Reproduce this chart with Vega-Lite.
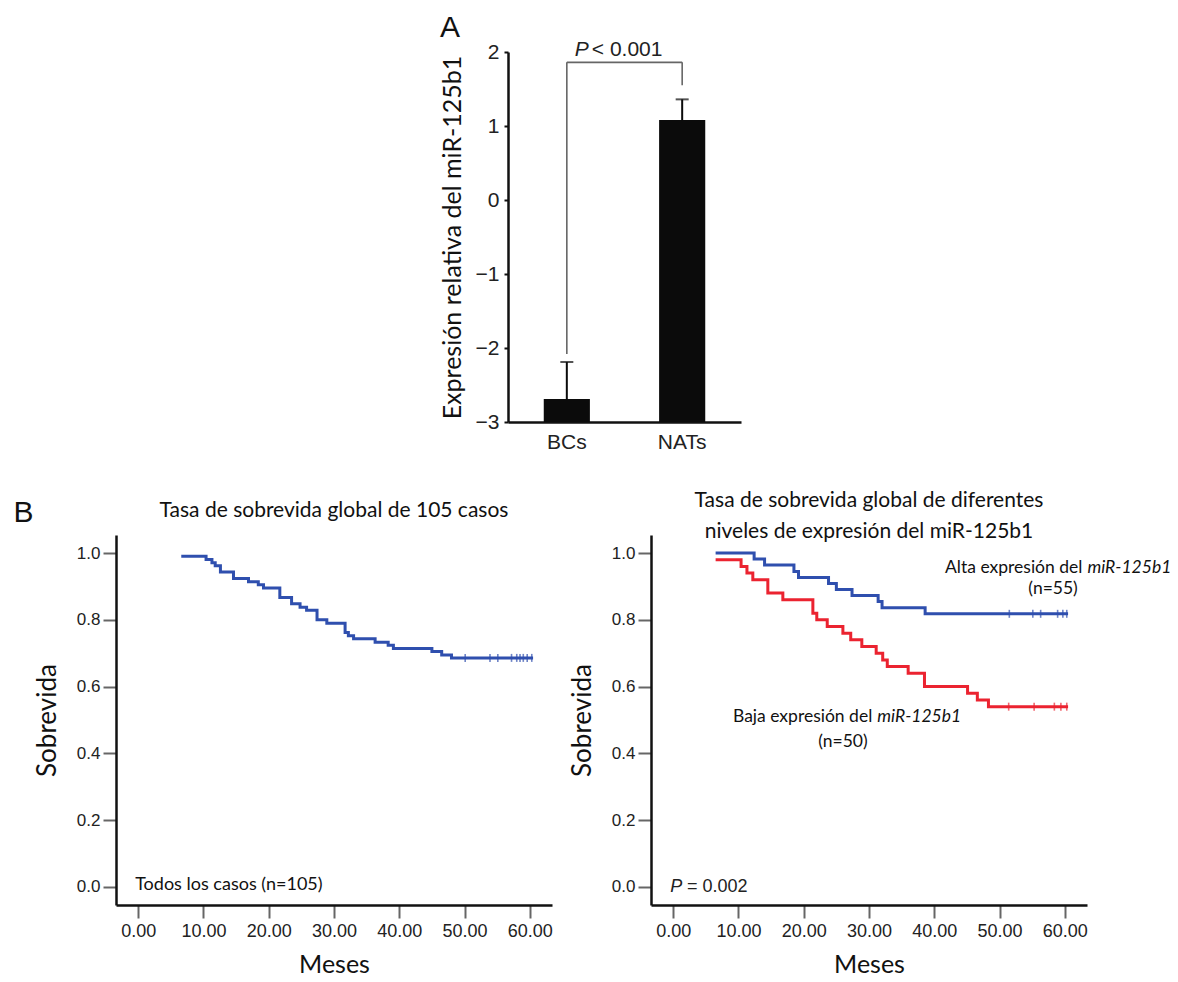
{
  "$schema": "https://vega.github.io/schema/vega-lite/v6.json",
  "background": "white",
  "padding": {"left": 13, "top": 12, "right": 5, "bottom": 5},
  "config": {
    "view": {"stroke": null},
    "font": "Lato",
    "axis": {
      "grid": false,
      "labelFont": "Liberation Sans",
      "labelColor": "#222",
      "titleFont": "Lato",
      "titleFontWeight": "normal",
      "titleColor": "#111",
      "domainColor": "#111",
      "domainWidth": 2.5,
      "tickColor": "#666",
      "tickWidth": 2
    },
    "title": {"font": "Lato", "fontWeight": "normal", "color": "#111"}
  },
  "datasets": {
    "bars": [
      {"group": "BCs", "value": -2.69, "upper": -2.19, "bracketTop": 1.86, "bracketLow": -2.08},
      {"group": "NATs", "value": 1.08, "upper": 1.36, "bracketTop": 1.86, "bracketLow": 1.55}
    ],
    "bracket": [{"from": "BCs", "to": "NATs", "y": 1.86}],
    "pval": [{"group": "BCs", "y": 1.95, "p": "P", "rest": "< 0.001"}],
    "all": [
      {"mes": 6.6, "s": 0.990}, {"mes": 10.4, "s": 0.981}, {"mes": 11.3, "s": 0.971},
      {"mes": 11.8, "s": 0.962}, {"mes": 12.6, "s": 0.943}, {"mes": 14.6, "s": 0.924},
      {"mes": 16.9, "s": 0.914}, {"mes": 18.4, "s": 0.905}, {"mes": 19.2, "s": 0.895},
      {"mes": 21.7, "s": 0.867}, {"mes": 23.5, "s": 0.848}, {"mes": 24.8, "s": 0.838},
      {"mes": 25.8, "s": 0.829}, {"mes": 27.4, "s": 0.800}, {"mes": 28.9, "s": 0.790},
      {"mes": 31.7, "s": 0.762}, {"mes": 32.2, "s": 0.752}, {"mes": 33.0, "s": 0.743},
      {"mes": 36.3, "s": 0.733}, {"mes": 38.3, "s": 0.724}, {"mes": 39.1, "s": 0.714},
      {"mes": 45.0, "s": 0.705}, {"mes": 46.5, "s": 0.695}, {"mes": 48.0, "s": 0.686},
      {"mes": 60.5, "s": 0.686}
    ],
    "allCensor": [
      {"mes": 50.1, "s": 0.686}, {"mes": 53.9, "s": 0.686}, {"mes": 55.1, "s": 0.686},
      {"mes": 57.2, "s": 0.686}, {"mes": 58.0, "s": 0.686}, {"mes": 58.5, "s": 0.686},
      {"mes": 59.0, "s": 0.686}, {"mes": 59.6, "s": 0.686}, {"mes": 60.3, "s": 0.686}
    ],
    "groups": [
      {"grupo": "Alta", "mes": 6.5, "s": 1.0}, {"grupo": "Alta", "mes": 12.4, "s": 0.982},
      {"grupo": "Alta", "mes": 14.0, "s": 0.964}, {"grupo": "Alta", "mes": 18.5, "s": 0.945},
      {"grupo": "Alta", "mes": 19.2, "s": 0.927}, {"grupo": "Alta", "mes": 23.8, "s": 0.909},
      {"grupo": "Alta", "mes": 25.0, "s": 0.891}, {"grupo": "Alta", "mes": 27.4, "s": 0.873},
      {"grupo": "Alta", "mes": 31.4, "s": 0.855}, {"grupo": "Alta", "mes": 32.0, "s": 0.836},
      {"grupo": "Alta", "mes": 38.6, "s": 0.818}, {"grupo": "Alta", "mes": 60.5, "s": 0.818},
      {"grupo": "Baja", "mes": 6.5, "s": 0.98}, {"grupo": "Baja", "mes": 10.4, "s": 0.96},
      {"grupo": "Baja", "mes": 11.3, "s": 0.94}, {"grupo": "Baja", "mes": 12.2, "s": 0.92},
      {"grupo": "Baja", "mes": 14.5, "s": 0.88}, {"grupo": "Baja", "mes": 16.8, "s": 0.86},
      {"grupo": "Baja", "mes": 21.4, "s": 0.82}, {"grupo": "Baja", "mes": 22.0, "s": 0.80},
      {"grupo": "Baja", "mes": 23.6, "s": 0.78}, {"grupo": "Baja", "mes": 26.0, "s": 0.76},
      {"grupo": "Baja", "mes": 27.2, "s": 0.74}, {"grupo": "Baja", "mes": 28.9, "s": 0.72},
      {"grupo": "Baja", "mes": 31.1, "s": 0.70}, {"grupo": "Baja", "mes": 32.1, "s": 0.68},
      {"grupo": "Baja", "mes": 32.8, "s": 0.66}, {"grupo": "Baja", "mes": 36.0, "s": 0.64},
      {"grupo": "Baja", "mes": 38.5, "s": 0.60}, {"grupo": "Baja", "mes": 45.1, "s": 0.58},
      {"grupo": "Baja", "mes": 46.6, "s": 0.56}, {"grupo": "Baja", "mes": 48.3, "s": 0.54},
      {"grupo": "Baja", "mes": 60.5, "s": 0.54}
    ],
    "groupCensor": [
      {"grupo": "Alta", "mes": 51.5, "s": 0.818}, {"grupo": "Alta", "mes": 55.1, "s": 0.818},
      {"grupo": "Alta", "mes": 56.3, "s": 0.818}, {"grupo": "Alta", "mes": 58.9, "s": 0.818},
      {"grupo": "Alta", "mes": 59.7, "s": 0.818}, {"grupo": "Alta", "mes": 60.3, "s": 0.818},
      {"grupo": "Baja", "mes": 51.4, "s": 0.54}, {"grupo": "Baja", "mes": 55.3, "s": 0.54},
      {"grupo": "Baja", "mes": 58.4, "s": 0.54}, {"grupo": "Baja", "mes": 59.4, "s": 0.54},
      {"grupo": "Baja", "mes": 60.3, "s": 0.54}
    ],
    "notesLeft": [{"mes": -0.46, "s": -0.009, "t": "Todos los casos (n=105)"}],
    "labelB": [{"mes": -19.1, "s": 1.093, "t": "B"}],
    "notesRightPlain": [
      {"mes": 62.7, "s": 0.940, "t": "Alta expresión del", "it": "miR-125b1"},
      {"mes": 30.5, "s": 0.494, "t": "Baja expresión del", "it": "miR-125b1"}
    ],
    "notesRightN": [
      {"mes": 58.2, "s": 0.877, "t": "(n=55)"},
      {"mes": 26.0, "s": 0.419, "t": "(n=50)"}
    ],
    "pRight": [{"mes": -0.46, "mes2": 2.1, "s": -0.015, "p": "P", "rest": "= 0.002"}]
  },
  "spacing": 38,
  "vconcat": [
    {
      "spacing": 0,
      "hconcat": [
        {"width": 324, "height": 10, "data": {"values": []}, "mark": "text", "encoding": {}},
        {
          "width": 233,
          "height": 370,
          "title": {"text": "A", "anchor": "start", "frame": "bounds", "font": "Liberation Sans", "fontSize": 30, "offset": -4},
          "layer": [
            {
              "data": {"name": "bars"},
              "mark": {"type": "bar", "color": "#0b0b0b"},
              "encoding": {
                "x": {
                  "field": "group", "type": "nominal",
                  "scale": {"paddingInner": 0.6, "paddingOuter": 0.31},
                  "axis": {"title": null, "labelAngle": 0, "ticks": false, "labelPadding": 9, "labelFontSize": 21, "labelColor": "#222"}
                },
                "y": {
                  "field": "value", "type": "quantitative",
                  "scale": {"domain": [-3, 2], "nice": false, "zero": false},
                  "axis": {
                    "values": [-3, -2, -1, 0, 1, 2],
                    "format": "d",
                    "title": "Expresión relativa del miR-125b1",
                    "titleFontSize": 25, "titlePadding": 10,
                    "labelFontSize": 21, "labelPadding": 5,
                    "tickSize": 4, "tickColor": "#111"
                  }
                },
                "y2": {"datum": -3}
              }
            },
            {
              "data": {"name": "bars"},
              "mark": {"type": "rule", "color": "#0b0b0b", "strokeWidth": 2},
              "encoding": {
                "x": {"field": "group", "type": "nominal"},
                "y": {"field": "value", "type": "quantitative"},
                "y2": {"field": "upper"}
              }
            },
            {
              "data": {"name": "bars"},
              "mark": {"type": "tick", "color": "#0b0b0b", "thickness": 2, "size": 13, "orient": "horizontal"},
              "encoding": {
                "x": {"field": "group", "type": "nominal"},
                "y": {"field": "upper", "type": "quantitative"}
              }
            },
            {
              "data": {"name": "bars"},
              "mark": {"type": "rule", "color": "#666", "strokeWidth": 1.6},
              "encoding": {
                "x": {"field": "group", "type": "nominal"},
                "y": {"field": "bracketTop", "type": "quantitative"},
                "y2": {"field": "bracketLow"}
              }
            },
            {
              "data": {"name": "bracket"},
              "mark": {"type": "rule", "color": "#666", "strokeWidth": 1.6},
              "encoding": {
                "x": {"field": "from", "type": "nominal"},
                "x2": {"field": "to"},
                "y": {"field": "y", "type": "quantitative"}
              }
            },
            {
              "data": {"name": "pval"},
              "mark": {"type": "text", "font": "Liberation Sans", "fontSize": 21, "fontStyle": "italic", "align": "left", "baseline": "alphabetic", "dx": 8, "color": "#222"},
              "encoding": {
                "x": {"field": "group", "type": "nominal"},
                "y": {"field": "y", "type": "quantitative"},
                "text": {"field": "p"}
              }
            },
            {
              "data": {"name": "pval"},
              "mark": {"type": "text", "font": "Liberation Sans", "fontSize": 21, "align": "left", "baseline": "alphabetic", "dx": 25, "color": "#222"},
              "encoding": {
                "x": {"field": "group", "type": "nominal"},
                "y": {"field": "y", "type": "quantitative"},
                "text": {"field": "rest"}
              }
            }
          ]
        }
      ]
    },
    {
      "spacing": 16,
      "hconcat": [
        {
          "width": 436,
          "height": 370,
          "title": {"text": "Tasa de sobrevida global de 105 casos", "fontSize": 21, "offset": -23},
          "layer": [
            {
              "data": {"name": "all"},
              "mark": {"type": "line", "interpolate": "step-after", "color": "#2f4fae", "strokeWidth": 3},
              "encoding": {
                "x": {
                  "field": "mes", "type": "quantitative",
                  "scale": {"domain": [-3.4, 63.4], "nice": false, "zero": false},
                  "axis": {"values": [0, 10, 20, 30, 40, 50, 60], "format": ".2f", "title": "Meses", "titleFontSize": 25, "titlePadding": 12, "labelFontSize": 18, "labelPadding": 4, "tickSize": 13}
                },
                "y": {
                  "field": "s", "type": "quantitative",
                  "scale": {"domain": [-0.054, 1.054], "nice": false, "zero": false},
                  "axis": {"values": [0, 0.2, 0.4, 0.6, 0.8, 1.0], "format": ".1f", "title": "Sobrevida", "titleFontSize": 26, "titlePadding": 16, "labelFontSize": 17, "labelPadding": 3, "tickSize": 13}
                }
              }
            },
            {
              "data": {"name": "allCensor"},
              "mark": {"type": "tick", "orient": "vertical", "color": "#2f4fae", "thickness": 1.6, "size": 8},
              "encoding": {
                "x": {"field": "mes", "type": "quantitative"},
                "y": {"field": "s", "type": "quantitative"}
              }
            },
            {
              "data": {"name": "notesLeft"},
              "mark": {"type": "text", "font": "Lato", "fontSize": 18, "align": "left", "baseline": "alphabetic", "color": "#111"},
              "encoding": {
                "x": {"field": "mes", "type": "quantitative"},
                "y": {"field": "s", "type": "quantitative"},
                "text": {"field": "t"}
              }
            },
            {
              "data": {"name": "labelB"},
              "mark": {"type": "text", "font": "Liberation Sans", "fontSize": 30, "align": "left", "baseline": "alphabetic", "color": "#111"},
              "encoding": {
                "x": {"field": "mes", "type": "quantitative"},
                "y": {"field": "s", "type": "quantitative"},
                "text": {"field": "t"}
              }
            }
          ]
        },
        {
          "width": 436,
          "height": 370,
          "title": {"text": ["Tasa de sobrevida global de diferentes", "niveles de expresión del miR-125b1"], "fontSize": 21, "lineHeight": 31, "offset": -7},
          "layer": [
            {
              "data": {"name": "groups"},
              "mark": {"type": "line", "interpolate": "step-after", "strokeWidth": 3},
              "encoding": {
                "x": {
                  "field": "mes", "type": "quantitative",
                  "scale": {"domain": [-3.4, 63.4], "nice": false, "zero": false},
                  "axis": {"values": [0, 10, 20, 30, 40, 50, 60], "format": ".2f", "title": "Meses", "titleFontSize": 25, "titlePadding": 12, "labelFontSize": 18, "labelPadding": 4, "tickSize": 13}
                },
                "y": {
                  "field": "s", "type": "quantitative",
                  "scale": {"domain": [-0.054, 1.054], "nice": false, "zero": false},
                  "axis": {"values": [0, 0.2, 0.4, 0.6, 0.8, 1.0], "format": ".1f", "title": "Sobrevida", "titleFontSize": 26, "titlePadding": 16, "labelFontSize": 17, "labelPadding": 3, "tickSize": 13}
                },
                "color": {"field": "grupo", "type": "nominal", "scale": {"domain": ["Alta", "Baja"], "range": ["#2f4fae", "#eb2330"]}, "legend": null}
              }
            },
            {
              "data": {"name": "groupCensor"},
              "mark": {"type": "tick", "orient": "vertical", "thickness": 1.6, "size": 8},
              "encoding": {
                "x": {"field": "mes", "type": "quantitative"},
                "y": {"field": "s", "type": "quantitative"},
                "color": {"field": "grupo", "type": "nominal", "legend": null}
              }
            },
            {
              "data": {"name": "notesRightPlain"},
              "mark": {"type": "text", "font": "Lato", "fontSize": 17.5, "align": "right", "baseline": "alphabetic", "color": "#111"},
              "encoding": {
                "x": {"field": "mes", "type": "quantitative"},
                "y": {"field": "s", "type": "quantitative"},
                "text": {"field": "t"}
              }
            },
            {
              "data": {"name": "notesRightPlain"},
              "mark": {"type": "text", "font": "Lato", "fontSize": 17.5, "fontStyle": "italic", "align": "left", "baseline": "alphabetic", "dx": 5, "color": "#111"},
              "encoding": {
                "x": {"field": "mes", "type": "quantitative"},
                "y": {"field": "s", "type": "quantitative"},
                "text": {"field": "it"}
              }
            },
            {
              "data": {"name": "notesRightN"},
              "mark": {"type": "text", "font": "Lato", "fontSize": 17.5, "align": "center", "baseline": "alphabetic", "color": "#111"},
              "encoding": {
                "x": {"field": "mes", "type": "quantitative"},
                "y": {"field": "s", "type": "quantitative"},
                "text": {"field": "t"}
              }
            },
            {
              "data": {"name": "pRight"},
              "mark": {"type": "text", "font": "Liberation Sans", "fontSize": 18, "fontStyle": "italic", "align": "left", "baseline": "alphabetic", "color": "#222"},
              "encoding": {
                "x": {"field": "mes", "type": "quantitative"},
                "y": {"field": "s", "type": "quantitative"},
                "text": {"field": "p"}
              }
            },
            {
              "data": {"name": "pRight"},
              "mark": {"type": "text", "font": "Liberation Sans", "fontSize": 18, "align": "left", "baseline": "alphabetic", "color": "#222"},
              "encoding": {
                "x": {"field": "mes2", "type": "quantitative"},
                "y": {"field": "s", "type": "quantitative"},
                "text": {"field": "rest"}
              }
            }
          ]
        }
      ]
    }
  ]
}
